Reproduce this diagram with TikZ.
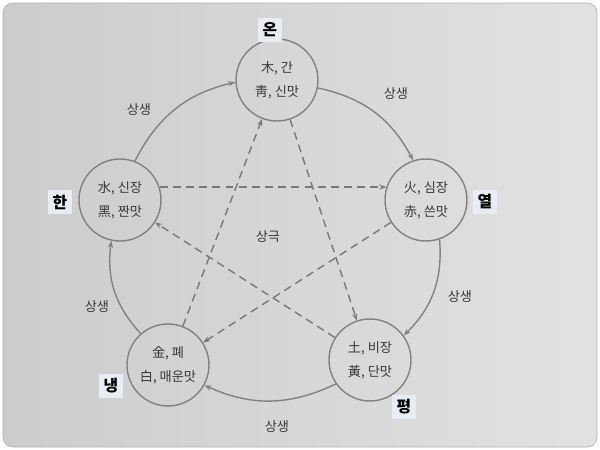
\documentclass[tikz,border=0pt]{standalone}
\usepackage{fontspec}
\setmainfont{Noto Sans CJK KR}
\usetikzlibrary{arrows.meta}

\definecolor{circleGray}{RGB}{130,130,130}
\definecolor{dashGray}{RGB}{120,120,120}
\definecolor{inkGray}{RGB}{55,55,55}
\definecolor{labelBlue}{RGB}{232,236,243}
\definecolor{pageDark}{RGB}{204,204,204}
\definecolor{pageLight}{RGB}{226,226,226}

\tikzstyle{elemCircle} = [draw=circleGray, line width=0.8pt, circle,
   minimum size=1.64cm, inner sep=0, align=center, text=inkGray,
   font=\fontsize{7.5}{13.5}\selectfont]
\tikzstyle{sangArrow} = [draw=circleGray, line width=0.8pt,
   -{Stealth[length=4pt,width=3pt]}, bend left=25]
\tikzstyle{keukArrow} = [draw=dashGray, line width=0.8pt,
   dash pattern=on 4.5pt off 3pt, -{Stealth[length=4pt,width=3pt]}]
\tikzstyle{sideLabel} = [fill=labelBlue, inner sep=2.5pt, text=black,
   font=\bfseries\fontsize{9}{10}\selectfont]
\tikzstyle{relLabel} = [text=inkGray, font=\fontsize{7.5}{9}\selectfont]

\begin{document}
\begin{tikzpicture}[x=0.02cm, y=-0.02cm]
  \useasboundingbox (0,0) rectangle (600,450);
  \fill[white] (0,0) rectangle (600,450);
  \shadedraw[left color=pageDark, right color=pageLight, draw=gray!60,
     rounded corners=0.2cm] (3,3) rectangle (597,447);

  % five elements
  \node[elemCircle] (node_mok) at (277,80) {木, 간\\靑, 신맛};
  \node[elemCircle] (node_hwa) at (426,200) {火, 심장\\赤, 쓴맛};
  \node[elemCircle] (node_to) at (370,360) {土, 비장\\黃, 단맛};
  \node[elemCircle] (node_geum) at (168,365) {金, 폐\\白, 매운맛};
  \node[elemCircle] (node_su) at (120,200) {水, 신장\\黑, 짠맛};

  % side labels
  \node[sideLabel] (lbl_on) at (270,30) {온};
  \node[sideLabel] (lbl_yeol) at (485,202) {열};
  \node[sideLabel] (lbl_pyeong) at (404,407) {평};
  \node[sideLabel] (lbl_naeng) at (111,386) {냉};
  \node[sideLabel] (lbl_han) at (60,202) {한};

  % relation labels
  \node[relLabel] (sang_a) at (139,110) {상생};
  \node[relLabel] (sang_b) at (396,94) {상생};
  \node[relLabel] (sang_c) at (460,297) {상생};
  \node[relLabel] (sang_d) at (277,427) {상생};
  \node[relLabel] (sang_e) at (97,307) {상생};
  \node[relLabel] (keuk) at (268,237) {상극};

  % outer cycle
  \draw[sangArrow] (node_su.69) to (node_mok.183);
  \draw[sangArrow] (node_mok.349) to (node_hwa.108);
  \draw[sangArrow] (node_hwa.289) to (node_to.36);
  \draw[sangArrow] (node_to.215) to (node_geum.331);
  \draw[sangArrow] (node_geum.131) to (node_su.258);

  % inner star
  \draw[keukArrow] (node_mok) -- (node_to);
  \draw[keukArrow] (node_to) -- (node_su);
  \draw[keukArrow] (node_su.18) -- (node_hwa.162);
  \draw[keukArrow] (node_hwa) -- (node_geum);
  \draw[keukArrow] (node_geum) -- (node_mok);
\end{tikzpicture}
\end{document}
